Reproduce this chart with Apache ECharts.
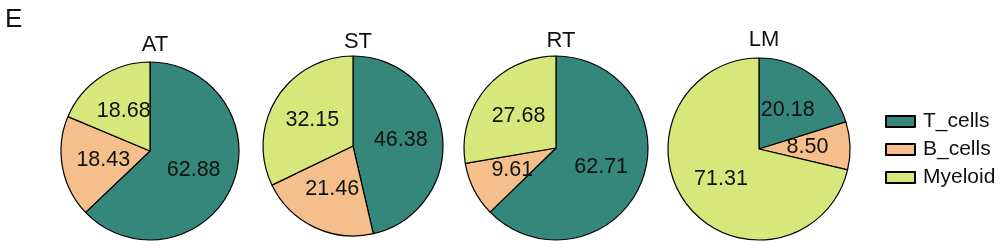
<!DOCTYPE html>
<html><head><meta charset="utf-8">
<script src="https://cdn.jsdelivr.net/npm/echarts@6/dist/echarts.min.js"></script>
<style>html,body{margin:0;padding:0;background:#fff}#c{width:1006px;height:248px}</style>
</head><body><div id="c"></div>
<script>
const panelLetter = 'E';
const groups = ['AT', 'ST', 'RT', 'LM'];
const cellTypes = ['T_cells', 'B_cells', 'Myeloid'];
const AT = [62.88, 18.43, 18.68];
const ST = [46.38, 21.46, 32.15];
const RT = [62.71, 9.61, 27.68];
const LM = [20.18, 8.50, 71.31];
const values = [AT, ST, RT, LM];
const colors = ['#35867b', '#f4bf8a', '#d8e77b'];

const centers = [[150, 151], [353, 146], [556, 148], [759, 149]];
const radii = [89, 90, 92, 91];
const titleTops = [29, 26, 25, 24];
const font = 'Liberation Sans, Arial, sans-serif';

const chart = echarts.init(document.getElementById('c'), null, {renderer: 'canvas'});
const series = groups.map((g, i) => ({
  type: 'pie',
  name: g,
  center: centers[i],
  radius: [0, radii[i]],
  startAngle: 90,
  clockwise: true,
  animation: false,
  silent: true,
  itemStyle: {borderColor: '#000', borderWidth: 1.2},
  label: {show: true, position: 'inside', color: '#111', fontSize: 21.5, fontFamily: font,
          formatter: p => p.value.toFixed(2)},
  labelLine: {show: false},
  emphasis: {disabled: true},
  data: cellTypes.map((c, k) => ({name: c, value: values[i][k], itemStyle: {color: colors[k]}}))
}));

const titles = [{text: panelLetter, left: 0, top: 2, textStyle: {fontSize: 26, fontWeight: 'normal', color: '#111', fontFamily: font}}]
  .concat(groups.map((g, i) => ({
    text: g, left: centers[i][0], top: titleTops[i], textAlign: 'center',
    textStyle: {fontSize: 22, fontWeight: 'normal', color: '#111', fontFamily: font}
  })));

chart.setOption({
  animation: false,
  title: titles,
  legend: {
    orient: 'vertical', left: 880, top: 106,
    itemWidth: 29, itemHeight: 11, itemGap: 7,
    icon: 'rect',
    itemStyle: {borderColor: '#000', borderWidth: 2},
    textStyle: {fontSize: 21, color: '#111', fontFamily: font, lineHeight: 21, padding: [0, 0, 0, 3]},
    data: cellTypes,
    selectedMode: false
  },
  series: series
});
</script></body></html>
